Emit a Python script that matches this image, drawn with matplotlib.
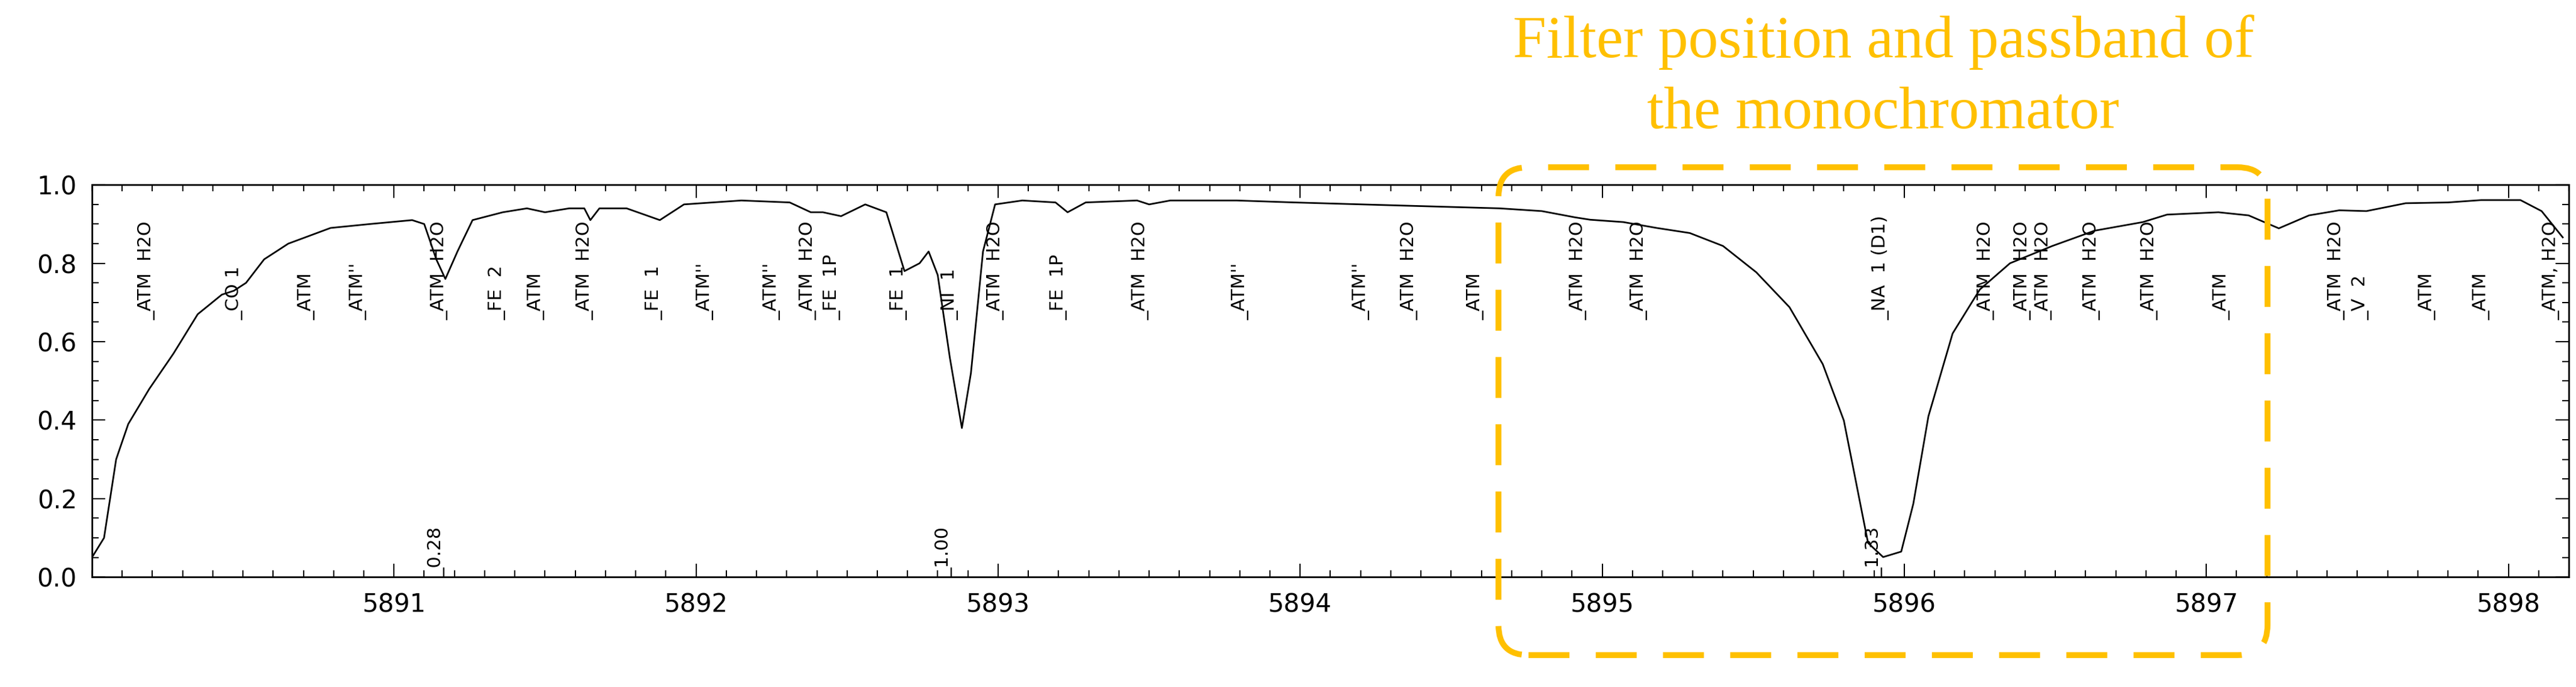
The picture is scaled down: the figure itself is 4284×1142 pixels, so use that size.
import numpy as np
import matplotlib.pyplot as plt
from matplotlib.patches import FancyBboxPatch
from matplotlib.ticker import MultipleLocator

# spectrum (wavelength in A, relative intensity)
wave = [5890.00, 5890.04, 5890.08, 5890.12, 5890.19, 5890.27, 5890.35, 5890.43, 5890.47,
        5890.51, 5890.57, 5890.65, 5890.79, 5890.92, 5891.06, 5891.10, 5891.14, 5891.17,
        5891.21, 5891.26, 5891.36, 5891.44, 5891.50, 5891.58, 5891.63, 5891.65, 5891.68,
        5891.77, 5891.88, 5891.96, 5892.15, 5892.31, 5892.38, 5892.42, 5892.48, 5892.56,
        5892.63, 5892.67, 5892.69, 5892.74, 5892.77, 5892.80, 5892.84, 5892.88, 5892.91,
        5892.95, 5892.99, 5893.08, 5893.19, 5893.23, 5893.29, 5893.46, 5893.50, 5893.57,
        5893.79, 5893.98, 5894.34, 5894.66, 5894.80, 5894.91, 5894.96, 5895.07, 5895.18,
        5895.29, 5895.40, 5895.51, 5895.62, 5895.73, 5895.80, 5895.84, 5895.88, 5895.93,
        5895.99, 5896.03, 5896.08, 5896.16, 5896.25, 5896.35, 5896.49, 5896.63, 5896.79,
        5896.87, 5897.04, 5897.14, 5897.24, 5897.34, 5897.44, 5897.53, 5897.66, 5897.80,
        5897.91, 5898.04, 5898.11, 5898.18]
flux = [0.05, 0.10, 0.30, 0.39, 0.48, 0.57, 0.67, 0.72, 0.73,
        0.75, 0.81, 0.85, 0.89, 0.90, 0.91, 0.90, 0.81, 0.76,
        0.83, 0.91, 0.93, 0.94, 0.93, 0.94, 0.94, 0.91, 0.94,
        0.94, 0.91, 0.95, 0.96, 0.955, 0.93, 0.93, 0.92, 0.95,
        0.93, 0.83, 0.78, 0.80, 0.83, 0.77, 0.56, 0.38, 0.52,
        0.83, 0.95, 0.96, 0.955, 0.93, 0.955, 0.96, 0.95, 0.96,
        0.96, 0.955, 0.947, 0.94, 0.933, 0.917, 0.911, 0.905, 0.89,
        0.877, 0.844, 0.777, 0.688, 0.543, 0.399, 0.243, 0.087, 0.051,
        0.065, 0.187, 0.41, 0.621, 0.733, 0.80, 0.844, 0.883, 0.905,
        0.924, 0.93, 0.922, 0.889, 0.922, 0.935, 0.933, 0.953, 0.955,
        0.961, 0.961, 0.933, 0.866]

# line identifications
line_pos = [5890.21, 5890.50, 5890.74, 5890.91, 5891.18, 5891.37, 5891.50, 5891.66, 5891.89,
            5892.06, 5892.28, 5892.40, 5892.48, 5892.70, 5892.87, 5893.02, 5893.23, 5893.50,
            5893.83, 5894.23, 5894.39, 5894.61, 5894.95, 5895.15, 5895.95, 5896.30, 5896.42,
            5896.49, 5896.65, 5896.84, 5897.08, 5897.46, 5897.54, 5897.76, 5897.94, 5898.17]
line_ids = ["ATM  H2O", "CO 1", "ATM", "ATM''", "ATM  H2O", "FE  2", "ATM", "ATM  H2O", "FE  1",
            "ATM''", "ATM''", "ATM  H2O", "FE  1P", "FE  1", "NI  1", "ATM  H2O", "FE  1P", "ATM  H2O",
            "ATM''", "ATM''", "ATM  H2O", "ATM", "ATM  H2O", "ATM  H2O", "NA  1 (D1)", "ATM  H2O", "ATM  H2O",
            "ATM  H2O", "ATM  H2O", "ATM  H2O", "ATM", "ATM  H2O", "V  2", "ATM", "ATM", "ATM, H2O"]

# equivalent width marks at the bottom
ew_pos = [5891.17, 5892.85, 5895.93]
ew_text = ["0.28", "1.00", "1.33"]

fig = plt.figure(figsize=(42.84, 11.42), dpi=100)
ax = fig.add_axes([0.0357, 0.160, 0.9615, 0.571])

ax.plot(wave, flux, color='black', lw=2)
ax.set_xlim(5890.0, 5898.2)
ax.set_ylim(0, 1.0)

for x, s in zip(line_pos, line_ids):
    ax.text(x, 0.655, "_" + s, rotation=90, ha='right', va='bottom',
            fontsize=22, color='black')
for x, s in zip(ew_pos, ew_text):
    ax.text(x, 0.0, "_" + s, rotation=90, ha='right', va='bottom',
            fontsize=22, color='black')

ax.set_xticks([5891, 5892, 5893, 5894, 5895, 5896, 5897, 5898])
ax.xaxis.set_minor_locator(MultipleLocator(0.1))
ax.set_yticks([0.0, 0.2, 0.4, 0.6, 0.8, 1.0])
ax.set_yticklabels(["0.0", "0.2", "0.4", "0.6", "0.8", "1.0"])
ax.yaxis.set_minor_locator(MultipleLocator(0.05))
ax.tick_params(which='both', direction='in', top=True, right=True, labelsize=30, width=1.5)
ax.tick_params(which='major', length=16, pad=18)
ax.tick_params(which='minor', length=8)
for sp in ax.spines.values():
    sp.set_linewidth(2)

# annotation box (pixel coordinates, dpi=100)
box = FancyBboxPatch((2492, 1142 - 1089), 3771 - 2492, 1089 - 278,
                     boxstyle="round,pad=0,rounding_size=50", transform=None,
                     fill=False, edgecolor='#FFC000', lw=7, linestyle=(0, (7, 4.5)),
                     zorder=10)
fig.patches.append(box)
fig.text(3132 / 4284, 1 - 70 / 1142, "Filter position and passband of", color='#FFC000',
         fontsize=72, family='Liberation Serif', ha='center', va='center')
fig.text(3132 / 4284, 1 - 189 / 1142, "the monochromator", color='#FFC000',
         fontsize=72, family='Liberation Serif', ha='center', va='center')

fig.savefig('out.png', dpi=100)
